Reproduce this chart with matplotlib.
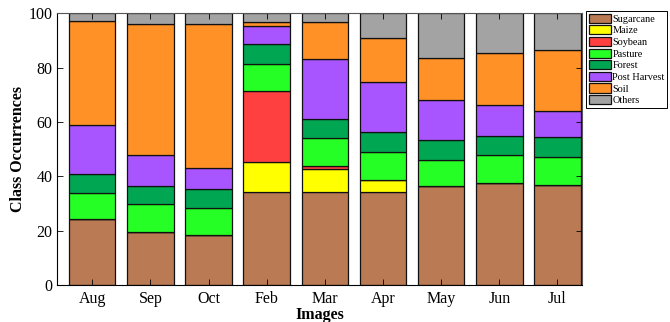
import numpy as np
import matplotlib
matplotlib.use('Agg')
import matplotlib.pyplot as plt

# Data (class occurrences, %, stacked from bottom)
months = ['Aug', 'Sep', 'Oct', 'Feb', 'Mar', 'Apr', 'May', 'Jun', 'Jul']
classes = ['Sugarcane', 'Maize', 'Soybean', 'Pasture', 'Forest', 'Post Harvest', 'Soil', 'Others']

sugarcane    = [24.1, 19.4, 18.3, 34.4, 34.1, 34.1, 36.4, 37.7, 36.8]
maize        = [0.0, 0.0, 0.0, 10.7, 8.6, 4.5, 0.0, 0.0, 0.0]
soybean      = [0.0, 0.0, 0.0, 26.3, 1.2, 0.0, 0.0, 0.0, 0.0]
pasture      = [9.8, 10.3, 9.9, 10.1, 10.3, 10.2, 9.5, 10.0, 10.2]
forest       = [6.9, 6.9, 7.2, 7.2, 6.9, 7.4, 7.3, 7.0, 7.4]
post_harvest = [18.0, 11.1, 7.7, 6.5, 22.1, 18.4, 15.0, 11.7, 9.8]
soil         = [38.4, 48.3, 53.1, 1.6, 13.6, 16.3, 15.5, 18.9, 22.4]
others       = [2.8, 4.0, 3.8, 3.2, 3.2, 9.1, 16.3, 14.7, 13.4]

series = [sugarcane, maize, soybean, pasture, forest, post_harvest, soil, others]
colors = ['#BA7A54', '#FFFF00', '#FF4040', '#26FF26', '#00A651', '#A855FF', '#FF9126', '#A3A3A3']

plt.rcParams['font.family'] = ['Liberation Serif', 'DejaVu Serif']

fig = plt.figure(figsize=(6.7, 3.22), dpi=100)
ax = fig.add_axes([0.0855, 0.115, 0.783, 0.8437])

x = np.arange(len(months))
bottom = np.zeros(len(months))
for name, vals, col in zip(classes, series, colors):
    vals = np.array(vals)
    ax.bar(x, vals, width=0.8, bottom=bottom, color=col, edgecolor='#111111',
           linewidth=0.9, label=name)
    bottom += vals

ax.set_xlim(-0.6, 8.42)
ax.set_ylim(0, 100)
ax.set_xticks(x)
ax.set_xticklabels(months)
ax.set_yticks([0, 20, 40, 60, 80, 100])
ax.tick_params(direction='in', top=True, right=True, labelsize=11.5, length=4, width=0.6)
ax.tick_params(axis='x', pad=4)
ax.set_ylabel('Class Occurrences', fontsize=11.5, fontweight='bold', labelpad=2)
ax.set_xlabel('Images', fontsize=11.5, fontweight='bold', labelpad=0)
for side in ['left', 'bottom']:
    ax.spines[side].set_color('black')
for side in ['top', 'right']:
    ax.spines[side].set_color('#555555')

leg = fig.legend(loc='upper left', bbox_to_anchor=(0.875, 0.966), fontsize=7.4,
                 frameon=True, fancybox=False, edgecolor='black', framealpha=1,
                 handlelength=2.2, handleheight=1.0, handletextpad=0.1,
                 labelspacing=0.15, borderpad=0.25, borderaxespad=0.0)
leg.get_frame().set_linewidth(0.7)

fig.savefig('out.png', dpi=100)
